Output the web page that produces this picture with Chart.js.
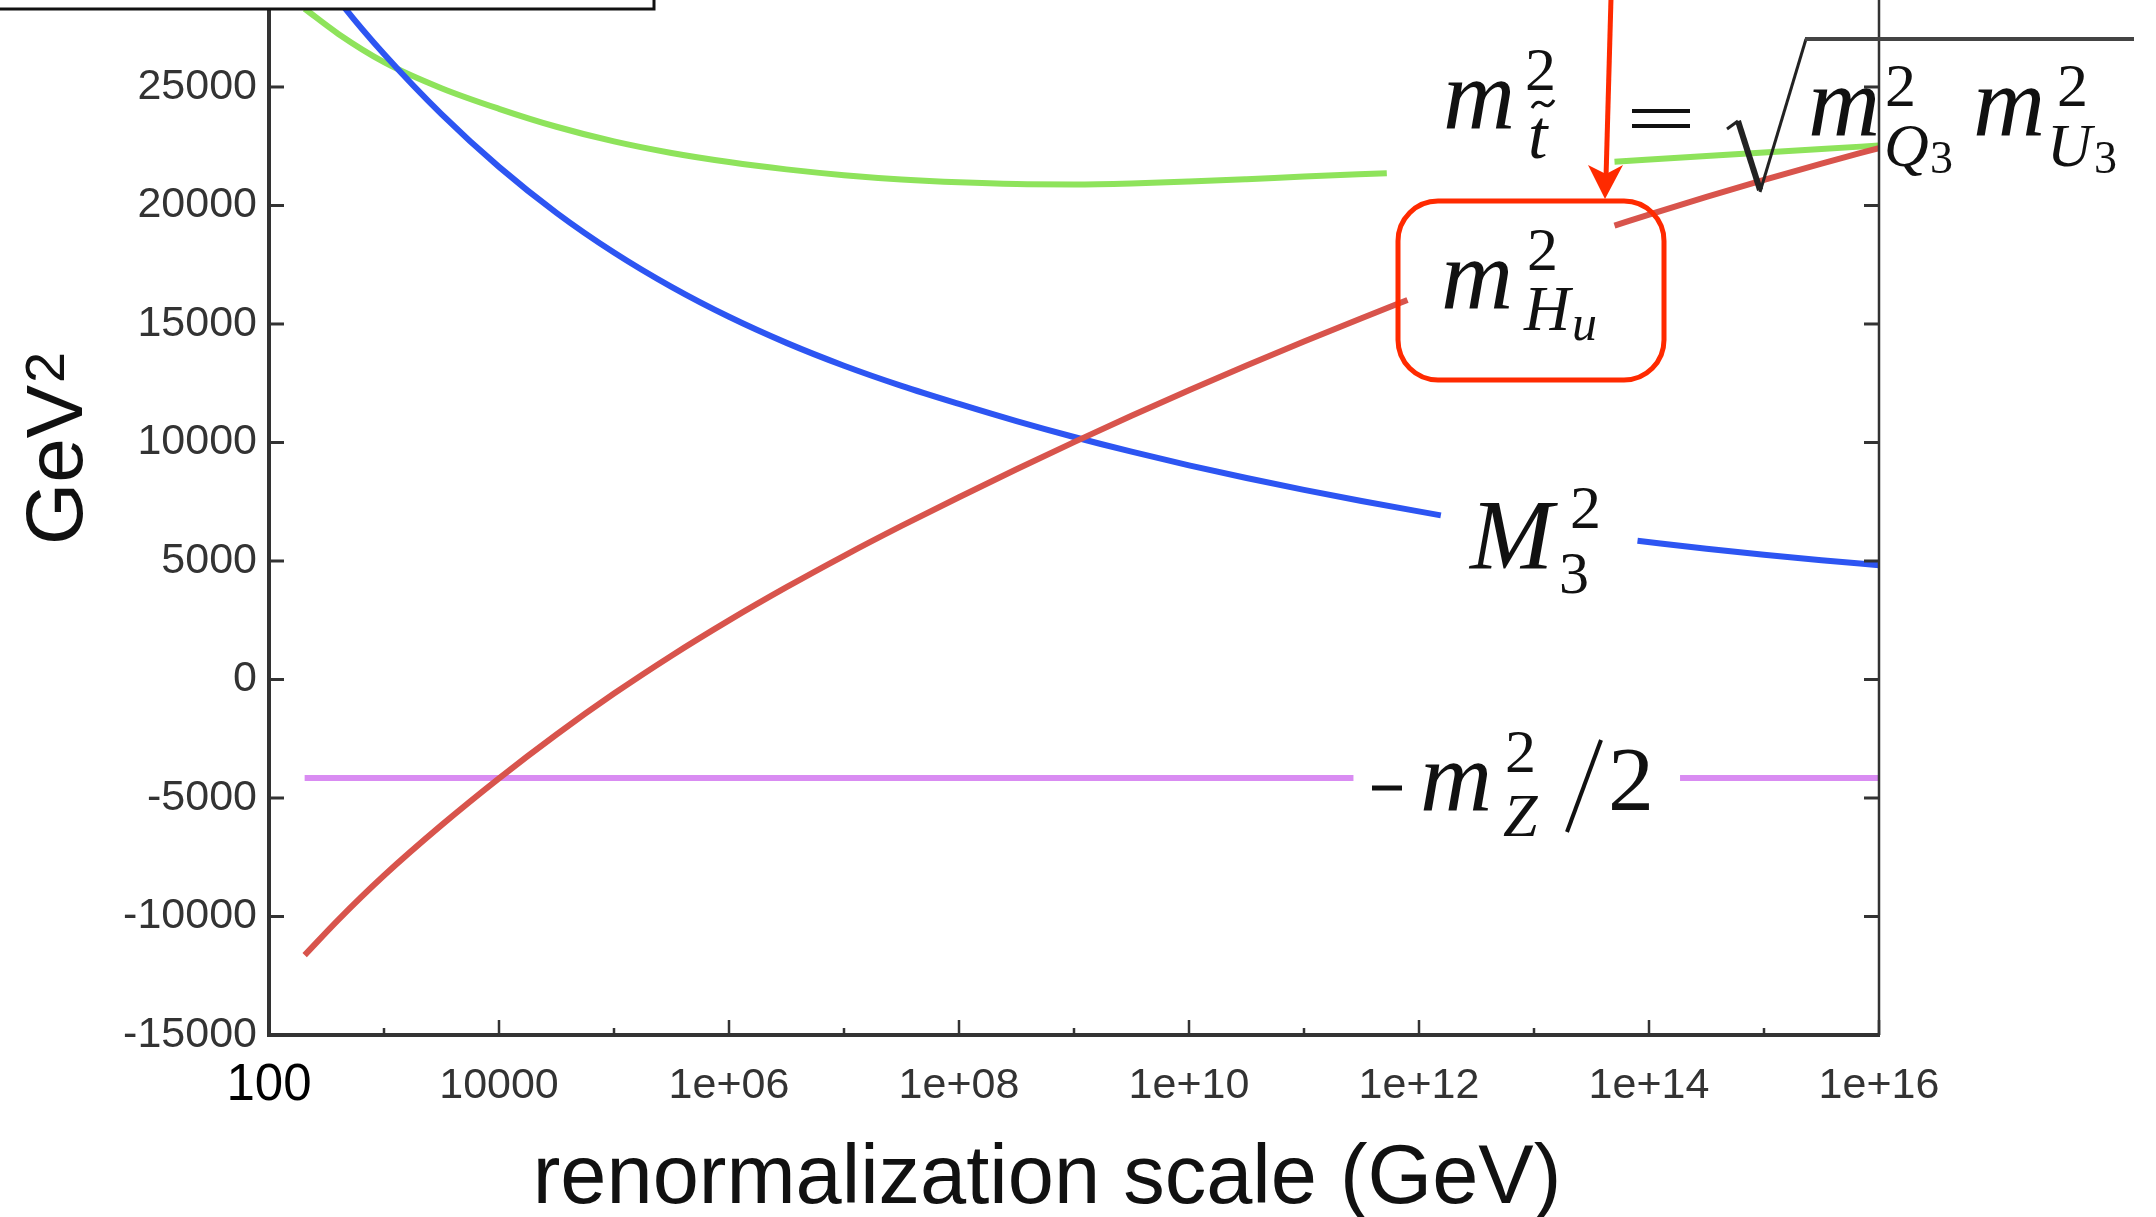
<!DOCTYPE html>
<html>
<head>
<meta charset="utf-8">
<script src="https://cdn.jsdelivr.net/npm/chart.js@4.4.1/dist/chart.umd.min.js"></script>
<style>
  html, body { margin: 0; padding: 0; background: #fff; }
  canvas { display: block; }
</style>
</head>
<body>
<canvas id="rgeChart" width="2156" height="1217" style="width:2156px;height:1217px"></canvas>
<script>
// x positions are log10(mu / GeV); null marks where a label sits over the curve
const muLogHu = [2.31, 2.6, 3.0, 3.5, 4.0, 4.5, 5.0, 5.5, 6.0, 6.5, 7.0, 7.5, 8.0, 8.5, 9.0, 9.5, 10.0, 10.5, 11.0, 11.5, 11.9, 12.8, 13.7, 14.0, 14.5, 15.0, 15.5, 16.0];
const mHu2 = [-11630, -10150, -8270, -6145, -4170, -2320, -595, 1005, 2495, 3895, 5220, 6480, 7690, 8870, 10015, 11125, 12200, 13245, 14260, 15245, 16013, null, 19150, 19618, 20368, 21083, 21768, 22423];

const muLogM3 = [2.31, 2.66, 3.0, 3.5, 4.0, 4.5, 5.0, 5.5, 6.0, 6.5, 7.0, 7.5, 8.0, 8.5, 9.0, 9.5, 10.0, 10.5, 11.0, 11.5, 12.19, 13.0, 13.9, 14.5, 15.0, 15.5, 16.0];
const M3sq = [30605, 28330, 26392, 23854, 21629, 19691, 18016, 16566, 15303, 14203, 13240, 12390, 11627, 10902, 10232, 9612, 9037, 8502, 8002, 7532, 6925, null, 5850, 5514, 5264, 5034, 4824];

const muLogStop = [2.31, 2.6, 3.0, 3.5, 4.0, 4.5, 5.0, 5.5, 6.0, 6.5, 7.0, 7.5, 8.0, 8.5, 9.0, 9.5, 10.0, 10.5, 11.0, 11.72, 12.7, 13.7, 14.5, 15.0, 15.5, 16.0];
const mStop2 = [28300, 27250, 26050, 24950, 24080, 23322, 22702, 22214, 21831, 21523, 21280, 21100, 20977, 20904, 20890, 20930, 21010, 21110, 21220, 21360, null, 21850, 22090, 22235, 22385, 22530];

const muLogZ = [2.31, 11.43, 12.8, 14.27, 16.0];
const mZhalf = [-4158, -4158, null, -4158, -4158];

const xTickExps = [2, 3, 4, 5, 6, 7, 8, 9, 10, 11, 12, 13, 14, 15, 16];
const xTickLabels = ["100", "", "10000", "", "1e+06", "", "1e+08", "", "1e+10", "", "1e+12", "", "1e+14", "", "1e+16"];
const yTickValues = [-15000, -10000, -5000, 0, 5000, 10000, 15000, 20000, 25000];

const AXIS = "#333";
const INK = "#111";
const RED = "#ff2a00";
const SANS = '"Liberation Sans", Arial, sans-serif';
const SERIF = '"Liberation Serif", "Times New Roman", serif';

function pts(logs, vals) {
    return logs.map((e, i) => ({ x: Math.pow(10, e), y: vals[i] }));
}

function line(ctx, x1, y1, x2, y2) {
    ctx.beginPath();
    ctx.moveTo(x1, y1);
    ctx.lineTo(x2, y2);
    ctx.stroke();
}

function glyph(ctx, s, x, y, size, italic) {
    ctx.font = (italic ? "italic " : "") + size + "px " + SERIF;
    ctx.fillText(s, x, y);
}

const frame = {
    id: "frame",
    beforeDraw(chart) {
        const ctx = chart.ctx;
        ctx.save();
        ctx.fillStyle = "#fff";
        ctx.fillRect(0, 0, chart.width, chart.height);
        ctx.restore();
    },
    afterDraw(chart) {
        const { ctx, chartArea: a, scales } = chart;
        const x = scales.x, y = scales.y;
        ctx.save();
        ctx.strokeStyle = AXIS;
        ctx.lineCap = "butt";

        // axes
        ctx.lineWidth = 4;
        line(ctx, a.left, 0, a.left, a.bottom + 2);
        line(ctx, a.left - 2, a.bottom, a.right + 1, a.bottom);
        ctx.lineWidth = 2.5;
        line(ctx, a.right, 0, a.right, a.bottom);

        // inward ticks
        ctx.lineWidth = 3;
        yTickValues.forEach(v => {
            const py = y.getPixelForValue(v);
            line(ctx, a.left, py, a.left + 15, py);
            line(ctx, a.right, py, a.right - 15, py);
        });
        ctx.lineWidth = 2.5;
        xTickExps.forEach((e, i) => {
            const px = x.getPixelForValue(Math.pow(10, e));
            const len = xTickLabels[i] ? 15 : 7;
            line(ctx, px, a.bottom, px, a.bottom - len);
        });

        // axis titles
        ctx.fillStyle = INK;
        ctx.textBaseline = "alphabetic";
        ctx.textAlign = "center";
        ctx.font = "83px " + SANS;
        ctx.fillText("renormalization scale (GeV)", 1047, 1203);

        ctx.save();
        ctx.translate(82, 545);
        ctx.rotate(-Math.PI / 2);
        ctx.textAlign = "left";
        ctx.font = "80px " + SANS;
        ctx.fillText("GeV", 0, 0);
        const w = ctx.measureText("GeV").width;
        ctx.font = "56px " + SANS;
        ctx.fillText("2", w + 2, -18);
        ctx.restore();

        // formula labels
        ctx.textAlign = "left";
        ctx.fillStyle = INK;
        ctx.strokeStyle = INK;

        // m_t~^2 = sqrt(m_Q3^2 m_U3^2)
        glyph(ctx, "m", 1443, 128, 100, true);
        glyph(ctx, "2", 1525, 90, 62, false);
        glyph(ctx, "t", 1528, 158, 70, true);
        ctx.lineWidth = 3;
        ctx.beginPath();
        ctx.moveTo(1532, 108);
        ctx.quadraticCurveTo(1537, 99, 1543, 104);
        ctx.quadraticCurveTo(1549, 109, 1554, 100);
        ctx.stroke();
        ctx.lineWidth = 4;
        line(ctx, 1632, 111, 1690, 111);
        line(ctx, 1632, 126, 1690, 126);
        ctx.strokeStyle = "#222";
        ctx.lineWidth = 3;
        line(ctx, 1727, 129, 1738, 121);
        ctx.lineWidth = 6;
        line(ctx, 1738, 121, 1760, 190);
        ctx.lineWidth = 3;
        ctx.beginPath();
        ctx.moveTo(1760, 192);
        ctx.lineTo(1806, 39);
        ctx.stroke();
        ctx.strokeStyle = "#444";
        ctx.lineWidth = 4;
        line(ctx, 1805, 39, 2134, 39);
        glyph(ctx, "m", 1808, 135, 100, true);
        glyph(ctx, "2", 1885, 106, 62, false);
        glyph(ctx, "Q", 1884, 166, 62, true);
        glyph(ctx, "3", 1930, 173, 46, false);
        glyph(ctx, "m", 1973, 135, 100, true);
        glyph(ctx, "2", 2057, 106, 62, false);
        glyph(ctx, "U", 2047, 166, 62, true);
        glyph(ctx, "3", 2094, 173, 46, false);

        // m_Hu^2 in a rounded red box with arrow
        glyph(ctx, "m", 1441, 308, 100, true);
        glyph(ctx, "2", 1527, 270, 62, false);
        glyph(ctx, "H", 1524, 330, 64, true);
        glyph(ctx, "u", 1572, 340, 50, true);

        ctx.strokeStyle = RED;
        ctx.fillStyle = RED;
        ctx.lineWidth = 5;
        const bx = 1398, by = 201, bw = 266, bh = 179, r = 40;
        ctx.beginPath();
        ctx.moveTo(bx + r, by);
        ctx.arcTo(bx + bw, by, bx + bw, by + bh, r);
        ctx.arcTo(bx + bw, by + bh, bx, by + bh, r);
        ctx.arcTo(bx, by + bh, bx, by, r);
        ctx.arcTo(bx, by, bx + bw, by, r);
        ctx.closePath();
        ctx.stroke();
        line(ctx, 1611, -2, 1606, 178);
        ctx.beginPath();
        ctx.moveTo(1605, 199);
        ctx.lineTo(1588, 165);
        ctx.lineTo(1606, 174);
        ctx.lineTo(1623, 165);
        ctx.closePath();
        ctx.fill();

        // M_3^2
        ctx.fillStyle = INK;
        ctx.strokeStyle = INK;
        glyph(ctx, "M", 1470, 568, 100, true);
        glyph(ctx, "2", 1570, 528, 62, false);
        glyph(ctx, "3", 1559, 593, 60, false);

        // -m_Z^2/2
        ctx.lineWidth = 5;
        line(ctx, 1372, 788, 1402, 788);
        glyph(ctx, "m", 1420, 810, 100, true);
        glyph(ctx, "2", 1505, 772, 62, false);
        glyph(ctx, "Z", 1503, 836, 62, true);
        ctx.lineWidth = 4;
        line(ctx, 1601, 740, 1567, 832);
        glyph(ctx, "2", 1608, 810, 92, false);

        // clipped box at top-left
        ctx.fillStyle = "#fff";
        ctx.fillRect(0, 0, 654, 9);
        ctx.strokeStyle = "#111";
        ctx.lineWidth = 3;
        ctx.strokeRect(-5, -5, 659, 14);

        ctx.restore();
    }
};

const canvas = document.getElementById("rgeChart");

new Chart(canvas, {
    type: "line",
    data: {
        datasets: [
            { label: "mHu2", data: pts(muLogHu, mHu2), borderColor: "#d8544c", borderWidth: 6 },
            { label: "M3sq", data: pts(muLogM3, M3sq), borderColor: "#2d55f2", borderWidth: 6 },
            { label: "mStop2", data: pts(muLogStop, mStop2), borderColor: "#8ee35b", borderWidth: 6 },
            { label: "mZhalf", data: pts(muLogZ, mZhalf), borderColor: "#d98cf2", borderWidth: 6, tension: 0 }
        ]
    },
    options: {
        responsive: false,
        animation: false,
        devicePixelRatio: 1,
        layout: { padding: { left: 0, right: 277, top: 0, bottom: 0 } },
        elements: {
            point: { radius: 0 },
            line: { cubicInterpolationMode: "monotone", fill: false }
        },
        plugins: {
            legend: { display: false },
            tooltip: { enabled: false }
        },
        scales: {
            x: {
                type: "logarithmic",
                min: 1e2,
                max: 1e16,
                afterBuildTicks: s => { s.ticks = xTickExps.map(e => ({ value: Math.pow(10, e) })); },
                afterFit: s => { s.height = 182; s.paddingLeft = 0; s.paddingRight = 0; },
                grid: { display: false, drawTicks: false },
                border: { display: false },
                ticks: {
                    autoSkip: false,
                    maxRotation: 0,
                    minRotation: 0,
                    padding: 25,
                    color: c => c.index === 0 ? "#000" : AXIS,
                    font: c => c.index === 0
                        ? { family: SANS, size: 51, lineHeight: 1.0 }
                        : { family: SANS, size: 43, lineHeight: 1.2 },
                    callback: (v, i) => xTickLabels[i]
                }
            },
            y: {
                min: -15000,
                max: 28670,
                afterBuildTicks: s => { s.ticks = yTickValues.map(v => ({ value: v })); },
                afterFit: s => { s.width = 269; s.paddingTop = 0; s.paddingBottom = 0; },
                grid: { display: false, drawTicks: false },
                border: { display: false },
                ticks: {
                    padding: 12,
                    color: AXIS,
                    font: { family: SANS, size: 43 },
                    callback: v => String(v)
                }
            }
        }
    },
    plugins: [frame]
});
</script>
</body>
</html>
